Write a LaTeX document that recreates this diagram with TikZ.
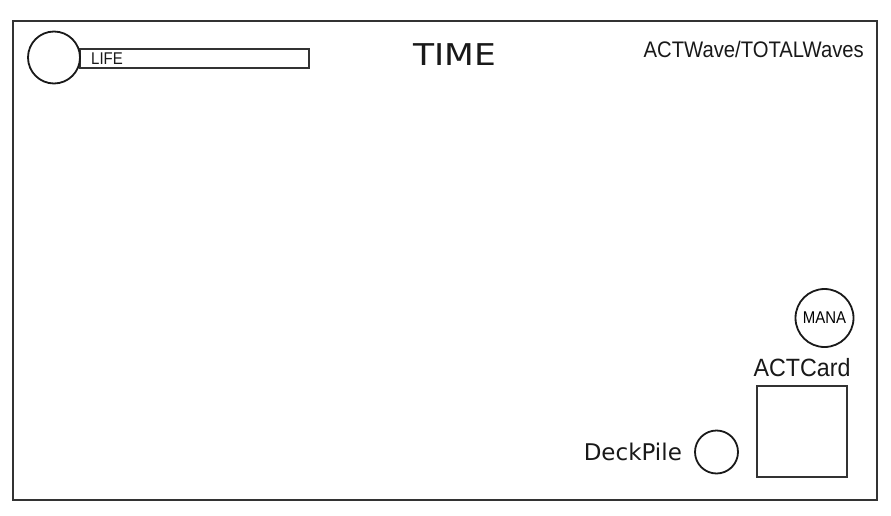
\documentclass[tikz,border=0pt]{standalone}
\usepackage{fontspec}
\setmainfont{DejaVu Sans}
\newfontfamily\narrowfont{Liberation Sans}
\usetikzlibrary{positioning}
\newcommand{\narrowed}[1]{\scalebox{0.88}[1]{#1}}
\tikzset{
    frame/.style = {draw=black!80, line width=1.8pt},
    ring/.style = {circle, draw=black!90, line width=1.8pt, inner sep=0pt},
    barbox/.style = {rectangle, draw=black!80, line width=1.6pt, inner sep=0pt,
                     minimum width=229pt, minimum height=19pt},
    cardbox/.style = {rectangle, draw=black!80, line width=1.6pt, inner sep=0pt,
                      minimum width=90pt, minimum height=91pt},
    hudtext/.style = {inner sep=0pt, text=black!90},
}

\begin{document}
\begin{tikzpicture}[x=1pt, y=-1pt]
\useasboundingbox (0,0) rectangle (891,516);
\draw[frame] (13,21) rectangle (877,500);

% top bar
\node (lifebar) [barbox] at (194.5,58.5) {};
\node (lifering) [ring, minimum size=52pt, fill=white] at (54,57.5) {};
\node (life) [hudtext, anchor=west, font=\narrowfont\fontsize{17}{17}\selectfont] at (91,59) {\narrowed{LIFE}};
\node (time) [hudtext, font=\fontsize{30}{30}\selectfont] at (455,55) {\scalebox{1.15}[1]{TIME}};
\node (waves) [hudtext, anchor=east, font=\narrowfont\fontsize{22.5}{22}\selectfont] at (864,49) {\scalebox{0.9}[1]{ACTWave/TOTALWaves}};

% bottom right
\node (mana) [ring, minimum size=58pt, font=\narrowfont\fontsize{17}{17}\selectfont] at (824.5,318) {\narrowed{MANA}};
\node (card) [cardbox] at (802,431.5) {};
\node (actcard) [hudtext, above=8pt of card, font=\narrowfont\fontsize{25}{25}\selectfont] {\scalebox{0.93}[1]{ACTCard}};
\node (deck) [ring, minimum size=43pt] at (716.5,452) {};
\node (deckpile) [hudtext, left=12pt of deck, font=\fontsize{23}{23}\selectfont] {DeckPile};
\end{tikzpicture}
\end{document}
